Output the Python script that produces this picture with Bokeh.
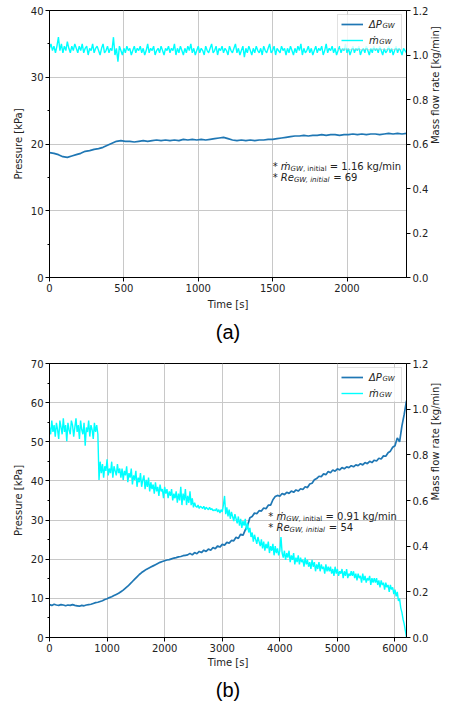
import math
import numpy as np
from bokeh.plotting import figure
from bokeh.models import (Range1d, LinearAxis, SingleIntervalTicker, FixedTicker, Label, Legend,
                          LegendItem, NumeralTickFormatter, Title, BoxAnnotation)
from bokeh.layouts import column
from bokeh.embed import file_html
from bokeh.resources import INLINE

FONT = "DejaVu Sans"
BLUE = "#1f77b4"
CYAN = "#00ffff"
TXT = "#222222"

# ---------------- data: panel (a) ----------------
A_DP_STEP = 30  # s
A_DP = [18.7, 18.6, 18.4, 18.1, 18.0, 18.2, 18.4, 18.6, 18.9, 19.0,
        19.2, 19.3, 19.5, 19.8, 20.1, 20.4, 20.5, 20.4, 20.4, 20.3,
        20.4, 20.5, 20.4, 20.5, 20.6, 20.5, 20.6, 20.5, 20.6, 20.5,
        20.7, 20.6, 20.7, 20.6, 20.7, 20.6, 20.7, 20.8, 20.9, 21.0,
        20.8, 20.6, 20.5, 20.6, 20.5, 20.6, 20.5, 20.6, 20.6, 20.7,
        20.7, 20.8, 20.9, 21.0, 21.1, 21.2, 21.2, 21.3, 21.2, 21.3,
        21.3, 21.4, 21.3, 21.4, 21.4, 21.3, 21.4, 21.4, 21.5, 21.4,
        21.5, 21.4, 21.5, 21.5, 21.4, 21.5, 21.6, 21.5, 21.6, 21.5, 21.6]
A_M_STEP = 10  # s
A_M = [1.03, 1.05, 1.02, 1.04, 1.01, 1.04, 1.08, 1.02, 1.05, 1.01, 1.04, 1.02, 1.06, 1.03, 1.01, 1.04, 1.02, 1.05, 1.03, 1.01,
       1.04, 1.02, 1.05, 1.01, 1.03, 1.04, 1.00, 1.03, 1.02, 1.05, 1.01, 1.03, 1.04, 1.02, 1.00, 1.03, 1.05, 1.01, 1.02, 1.04,
       1.01, 1.03, 1.02, 1.08, 1.00, 1.03, 0.97, 1.04, 1.02, 1.00, 1.03, 1.01, 1.04, 1.02, 1.03, 1.00, 1.02, 1.04, 1.01, 1.03,
       1.02, 1.04, 1.01, 1.03, 1.00, 1.02, 1.05, 1.01, 1.03, 1.02, 1.04, 1.00, 1.02, 1.03, 1.01, 1.04, 1.02, 1.00, 1.03, 1.02,
       1.04, 1.01, 1.03, 1.02, 1.05, 1.00, 1.03, 1.01, 1.04, 1.02, 1.00, 1.03, 1.01, 1.04, 1.02, 1.05, 1.01, 1.03, 1.00, 1.02,
       1.04, 1.01, 1.03, 1.02, 1.00, 1.04, 1.02, 1.01, 1.03, 1.05, 1.01, 1.02, 1.04, 1.00, 1.03, 1.02, 1.04, 1.01, 1.03, 1.02,
       1.00, 1.04, 1.02, 1.01, 1.03, 1.05, 1.01, 1.03, 1.00, 1.02, 1.04, 0.99, 1.03, 1.01, 1.04, 1.02, 1.00, 1.03, 1.01, 1.04,
       1.02, 1.01, 1.03, 1.00, 1.04, 1.02, 1.01, 1.03, 1.05, 1.01, 1.02, 1.04, 1.00, 1.03, 1.02, 1.01, 1.04, 1.02, 1.03, 1.00,
       1.03, 1.01, 1.04, 1.02, 1.00, 1.03, 1.01, 1.04, 1.02, 1.05, 1.00, 1.03, 1.01, 1.02, 1.04, 1.01, 1.03, 1.00, 1.02, 1.04,
       1.01, 1.03, 1.02, 1.04, 1.00, 1.02, 1.05, 1.01, 1.03, 1.02, 1.04, 1.01, 1.03, 1.00, 1.02, 1.04, 1.01, 1.03, 1.02, 1.05,
       1.01, 1.03, 1.00, 1.02, 1.04, 1.01, 1.03, 1.02, 1.04, 1.00, 1.02, 1.03, 1.01, 1.04, 1.02, 1.00, 1.03, 1.01, 1.04, 1.02,
       1.03, 1.01, 1.04, 1.02, 1.00, 1.03, 1.01, 1.02, 1.04, 1.01, 1.03, 1.00, 1.02, 1.04, 1.01, 1.03, 1.02, 1.00, 1.03, 1.02,
       1.01]

# ---------------- data: panel (b) ----------------
B_DP_STEP = 40  # s
B_DP = [8.4, 8.2, 8.5, 8.3, 8.2, 8.4, 8.3, 8.1, 8.3, 8.2, 8.4, 8.2, 8.1, 8.0, 8.2, 8.1, 8.3, 8.4, 8.5, 8.7, 8.9,
        9.0, 9.2, 9.4, 9.7, 9.9, 10.2, 10.4, 10.7, 11.0, 11.3, 11.7, 12.1, 12.6, 13.1, 13.7, 14.3, 14.9, 15.5, 16.1, 16.6,
        17.0, 17.4, 17.7, 18.0, 18.3, 18.6, 18.9, 19.2, 19.4, 19.6, 19.8, 19.9, 20.1, 20.3, 20.4, 20.6, 20.7, 20.9, 21.0, 21.1,
        21.5, 21.1, 21.7, 21.4, 22.0, 21.7, 22.3, 22.0, 22.6, 22.3, 23.0, 22.7, 23.4, 23.1, 23.8, 23.6, 24.3, 24.1, 24.8, 24.7,
        25.6, 25.3, 26.4, 26.1, 27.5, 28.6, 30.6, 30.9, 31.8, 31.6, 32.4, 32.3, 33.1, 32.9, 33.8, 33.8, 35.2, 36.0, 36.3, 36.1,
        36.8, 36.5, 37.1, 36.8, 37.4, 37.1, 37.7, 37.4, 38.0, 37.8, 38.5, 38.3, 39.2, 39.4, 40.3, 40.6, 41.2, 41.1, 41.8, 41.6,
        42.4, 42.1, 42.8, 42.5, 43.1, 42.8, 43.4, 43.1, 43.6, 43.4, 43.9, 43.6, 44.1, 43.9, 44.4, 44.1, 44.7, 44.4, 45.0, 44.7,
        45.3, 45.1, 45.8, 45.6, 46.4, 46.3, 47.2, 47.6, 48.6, 49.0, 51.0, 50.0, 54.0, 57.0, 60.5]
B_M_STEP = 20  # s
B_M = [0.92, 0.89, 0.95, 0.90, 0.93, 0.88, 0.94, 0.91, 0.87, 0.95, 0.92, 0.89, 0.96, 0.90, 0.93, 0.86, 0.94, 0.91, 0.89, 0.95,
       0.93, 0.88, 0.92, 0.96, 0.90, 0.93, 0.87, 0.95, 0.91, 0.89, 0.94, 0.84, 0.92, 0.90, 0.95, 0.88, 0.93, 0.91, 0.87, 0.94,
       0.90, 0.93, 0.89,
       0.69, 0.77, 0.72, 0.76, 0.70, 0.75, 0.73, 0.78, 0.71, 0.74, 0.72, 0.77, 0.70, 0.75, 0.73, 0.71, 0.76, 0.72, 0.74, 0.70,
       0.74, 0.69, 0.73, 0.71, 0.75, 0.68, 0.72, 0.70, 0.74, 0.67, 0.71, 0.69, 0.73, 0.66, 0.70, 0.68, 0.72, 0.66, 0.69, 0.71,
       0.65, 0.69, 0.66, 0.70, 0.64, 0.68, 0.65, 0.67, 0.63, 0.68, 0.64, 0.66, 0.62, 0.67, 0.64, 0.65, 0.61, 0.66, 0.63, 0.65,
       0.61, 0.64, 0.62, 0.65, 0.60, 0.63, 0.61, 0.64, 0.59, 0.63, 0.60, 0.66, 0.58, 0.63, 0.60, 0.65, 0.58, 0.62, 0.59, 0.64,
       0.58, 0.61, 0.57, 0.59, 0.575, 0.57, 0.58, 0.565, 0.575, 0.57, 0.565, 0.575, 0.56, 0.57, 0.565, 0.56, 0.57, 0.56, 0.565, 0.555,
       0.56, 0.555, 0.565, 0.55, 0.56, 0.545, 0.56, 0.55, 0.58, 0.62, 0.54, 0.57, 0.53, 0.56, 0.52, 0.55, 0.53, 0.51, 0.54, 0.52,
       0.50, 0.53, 0.49, 0.52, 0.48, 0.51, 0.49, 0.52, 0.47, 0.50, 0.46, 0.48, 0.44, 0.46, 0.42, 0.45, 0.43, 0.41, 0.44, 0.42,
       0.40, 0.43, 0.39, 0.42, 0.38, 0.41, 0.39, 0.42, 0.37, 0.40, 0.38, 0.41, 0.36, 0.40, 0.37, 0.39, 0.36, 0.38, 0.44, 0.37,
       0.35, 0.38, 0.34, 0.37, 0.35, 0.38, 0.33, 0.36, 0.34, 0.37, 0.32, 0.35, 0.33, 0.36, 0.32, 0.35, 0.33, 0.34, 0.31, 0.35,
       0.32, 0.34, 0.31, 0.33, 0.30, 0.34, 0.31, 0.33, 0.29, 0.32, 0.30, 0.33, 0.29, 0.32, 0.30, 0.31, 0.28, 0.32, 0.29, 0.31,
       0.29, 0.31, 0.28, 0.30, 0.27, 0.31, 0.28, 0.30, 0.27, 0.29, 0.28, 0.30, 0.26, 0.29, 0.27, 0.30, 0.26, 0.28, 0.27, 0.29,
       0.27, 0.29, 0.26, 0.28, 0.25, 0.28, 0.26, 0.27, 0.24, 0.28, 0.25, 0.27, 0.24, 0.26, 0.25, 0.27, 0.23, 0.26, 0.24, 0.26,
       0.24, 0.26, 0.23, 0.25, 0.22, 0.25, 0.23, 0.24, 0.21, 0.24, 0.22, 0.23, 0.20, 0.23, 0.21, 0.22, 0.19, 0.21, 0.18, 0.20,
       0.16, 0.17, 0.13, 0.11, 0.08, 0.06, 0.03, 0.00]

MDOT_TICKS = [0.0, 0.2, 0.4, 0.6, 0.8, 1.0, 1.2]
LEGEND_LABELS = ["ΔP", "ṁ"]
LEGEND_SUB = "GW"
X_LABEL = "Time [s]"
Y_LABEL = "Pressure [kPa]"
Y2_LABEL = "Mass flow rate [kg/min]"

# approximate DejaVu Sans advance widths (em)
W = {' ': 0.318, '*': 0.5, ',': 0.318, '.': 0.318, '=': 0.838, '/': 0.337,
     'G': 0.775, 'W': 0.989, 'R': 0.695, 'e': 0.615, 'i': 0.278, 'n': 0.634,
     't': 0.392, 'a': 0.613, 'l': 0.278, 'k': 0.579, 'g': 0.635, 'm': 0.974,
     'ṁ': 0.974, 'Δ': 0.685, 'P': 0.603}
for d in "0123456789":
    W[d] = 0.636


def tw(s, size):
    return sum(W.get(c, 0.6) for c in s) * size


def rich(p, x, y, pieces):
    off = 0.0
    for txt, size, style, sub in pieces:
        lead = len(txt) - len(txt.lstrip(' '))
        trail = len(txt) - len(txt.rstrip(' '))
        body = txt.strip(' ')
        off += lead * W[' '] * size
        p.add_layout(Label(x=x, y=y, x_offset=off, y_offset=-2.5 if sub else 0,
                           text=body, text_font=FONT, text_font_size=f"{size}px",
                           text_font_style=style, text_color=TXT, level="overlay",
                           text_align="left", text_baseline="alphabetic"))
        off += tw(body, size) + trail * W[' '] * size


def panel(t_p, dp, t_m, mdot, xmax, ymax, xint, fw, fh, bl, br, bb,
          note_x, note_y1, note_y2, mflow, re_val, tag, tag_standoff, xlab_standoff):
    p = figure(width=bl + fw + br, height=10 + fh + bb,
               x_range=Range1d(0, xmax), y_range=Range1d(0, ymax),
               output_backend="svg", toolbar_location=None,
               min_border_left=bl, min_border_right=br,
               min_border_top=10, min_border_bottom=bb)
    p.extra_y_ranges = {"m": Range1d(0, 1.2)}
    p.background_fill_color = "white"
    p.border_fill_color = "white"
    p.outline_line_color = "black"
    p.outline_line_width = 1

    xt = SingleIntervalTicker(interval=xint, num_minor_ticks=0)
    yt = SingleIntervalTicker(interval=10, num_minor_ticks=2)
    p.xaxis.ticker = xt
    p.yaxis.ticker = yt
    p.xgrid.ticker = xt
    p.ygrid.ticker = yt
    p.xaxis.axis_label = X_LABEL
    p.yaxis.axis_label = Y_LABEL

    ax2 = LinearAxis(y_range_name="m", axis_label=Y2_LABEL,
                     ticker=FixedTicker(ticks=MDOT_TICKS),
                     formatter=NumeralTickFormatter(format="0.0"))
    ax2.axis_label_orientation = math.pi / 2
    p.add_layout(ax2, "right")

    for ax in p.xaxis + p.yaxis + [ax2]:
        ax.major_tick_out = 4
        ax.major_tick_in = 0
        ax.minor_tick_out = 2
        ax.minor_tick_in = 0
        ax.axis_line_color = "black"
        ax.major_tick_line_color = "black"
        ax.minor_tick_line_color = "black"
        ax.major_label_text_font = FONT
        ax.major_label_text_font_size = "10px"
        ax.major_label_text_color = TXT
        ax.axis_label_text_font = FONT
        ax.axis_label_text_font_size = "10px"
        ax.axis_label_text_font_style = "normal"
        ax.axis_label_text_color = TXT
        ax.major_label_standoff = 2
        ax.axis_label_standoff = 4
    p.xaxis.axis_label_standoff = xlab_standoff
    ax2.minor_tick_line_color = None
    p.xaxis.minor_tick_line_color = None

    p.grid.grid_line_color = "#c8c8c8"
    p.grid.grid_line_width = 1

    r1 = p.line(t_p, dp, line_color=BLUE, line_width=1.7)
    r2 = p.line(t_m, mdot, line_color=CYAN, line_width=1.4, y_range_name="m")

    # translucent white fill behind the legend
    ux = xmax / fw
    uy = ymax / fh
    p.add_layout(BoxAnnotation(left=xmax - 67 * ux, right=xmax - 4 * ux,
                               top=ymax - 4 * uy, bottom=ymax - 38 * uy,
                               fill_color="white", fill_alpha=0.8,
                               line_color=None))
    leg = Legend(items=[LegendItem(label=LEGEND_LABELS[0], renderers=[r1]),
                        LegendItem(label=LEGEND_LABELS[1], renderers=[r2])],
                 location="top_right", margin=4, padding=3, spacing=4,
                 glyph_width=22, glyph_height=12, label_height=12, label_width=29,
                 label_standoff=6, label_text_font=FONT, label_text_font_size="10px",
                 label_text_font_style="italic", label_text_color=TXT,
                 border_line_color="#c4c4c4", border_line_width=1,
                 background_fill_alpha=0)
    p.add_layout(leg)
    text_left = -(4 + 3 + 22 + 6 + 29 + 3) + 3 + 22 + 6  # relative to frame right
    for i, lab in enumerate(LEGEND_LABELS):
        dy = 4 + 3 + 6 + i * 16 + 2.5
        p.add_layout(Label(x=xmax, y=ymax, x_offset=text_left + tw(lab, 10) - 1.0,
                           y_offset=-dy, text=LEGEND_SUB, text_font=FONT,
                           text_font_size="7px", text_font_style="italic",
                           text_color=TXT, text_baseline="middle", level="overlay"))

    rich(p, note_x, note_y1, [("* ", 10, "normal", False), ("ṁ", 10, "italic", False),
                              ("GW", 7, "italic", True), (", initial", 7, "normal", True),
                              (f" = {mflow} kg/min", 10, "normal", False)])
    rich(p, note_x, note_y2, [("* ", 10, "normal", False), ("Re", 10, "italic", False),
                              ("GW, initial", 7, "italic", True),
                              (f" = {re_val}", 10, "normal", False)])

    p.add_layout(Title(text=tag, align="center", offset=-12, text_font="Liberation Sans",
                       text_font_size="20px", text_font_style="normal",
                       text_color="black", standoff=tag_standoff), "below")
    return p


ta_p = np.arange(len(A_DP)) * A_DP_STEP
ta_m = np.arange(len(A_M)) * A_M_STEP
tb_p = np.arange(len(B_DP)) * B_DP_STEP
tb_m = np.arange(len(B_M)) * B_M_STEP

pa = panel(ta_p, A_DP, ta_m, A_M, 2400, 40, 500, 360, 267, 49, 40, 76,
           1500, 16.6, 15.0, "1.16", 69, "(a)", 12, 4)
pb = panel(tb_p, B_DP, tb_m, B_M, 6200, 70, 1000, 369, 274, 44, 36, 69,
           3800, 30.9, 28.0, "0.91", 54, "(b)", 12, 2)

layout = column(pa, pb, spacing=0)
open("out.html", "w").write(file_html(layout, INLINE))
